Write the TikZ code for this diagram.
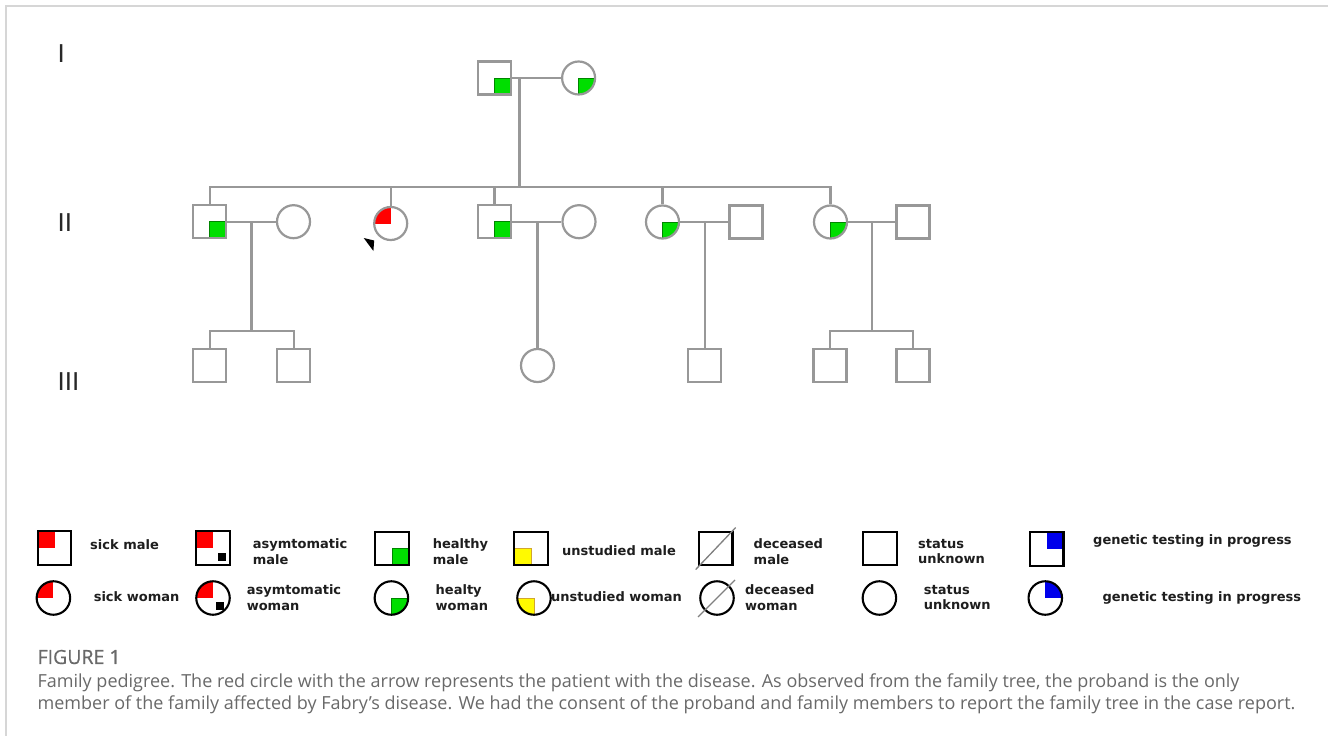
\documentclass[tikz,border=0pt]{standalone}
\usepackage{xcolor}
\usepackage{fontspec}
\setmainfont{Open Sans}
\newfontfamily\keyfont{DejaVu Sans}
\newfontfamily\figfont[FakeBold=0.6]{Open Sans}
\definecolor{kingray}{RGB}{152,152,152}
\definecolor{framegray}{RGB}{214,214,214}
\definecolor{capgray}{RGB}{105,105,105}
\definecolor{keytext}{RGB}{30,30,30}
\definecolor{hgreen}{RGB}{0,222,0}
\definecolor{sred}{RGB}{255,0,0}
\definecolor{uyellow}{RGB}{255,250,0}
\definecolor{gblue}{RGB}{0,0,235}
\usepackage{tikz}
\usetikzlibrary{calc}

\tikzset{
    kin/.style={draw=kingray, line width=2.2pt},
    person/.style={draw=kingray, line width=2.2pt, inner sep=0pt, minimum size=33pt},
    male/.style={person, rectangle},
    female/.style={person, circle},
    key/.style={draw=black, line width=2.1pt, inner sep=0pt, minimum size=33.5pt},
    keymale/.style={key, rectangle},
    keyfemale/.style={key, circle},
    healthy/.style={path picture={\filldraw [fill=hgreen, draw=hgreen!60!black, line width=0.6pt]
        (path picture bounding box.center) rectangle (path picture bounding box.south east);}},
    sick/.style={path picture={\fill [sred]
        (path picture bounding box.center) rectangle (path picture bounding box.north west);}},
    asymm/.style={path picture={\fill [sred]
        (path picture bounding box.center) rectangle (path picture bounding box.north west);
        \fill [black] ([shift={(5pt,-4.5pt)}]path picture bounding box.center) rectangle ++(7.5pt,-8pt);}},
    asymf/.style={path picture={\fill [sred]
        (path picture bounding box.center) rectangle (path picture bounding box.north west);
        \fill [black] ([shift={(3pt,-4pt)}]path picture bounding box.center) rectangle ++(7.5pt,-7.5pt);}},
    unstudied/.style={path picture={\filldraw [fill=uyellow, draw=brown!70!yellow, line width=0.8pt]
        (path picture bounding box.center) rectangle (path picture bounding box.south west);}},
    testing/.style={path picture={\fill [gblue]
        (path picture bounding box.center) rectangle (path picture bounding box.north east);}},
    slash/.style={draw=gray, line width=1.3pt},
    keylabel/.style={anchor=west, inner sep=0pt, align=left, text=keytext,
        font={\keyfont\bfseries\fontsize{13pt}{15.5pt}\selectfont}},
    gen/.style={anchor=west, inner sep=0pt, text={rgb,255:red,40;green,40;blue,40},
        font={\keyfont\fontsize{24.5pt}{26pt}\selectfont}},
    caption/.style={anchor=west, inner sep=0pt, text=capgray,
        font={\fontsize{18pt}{21pt}\selectfont}}
}

\begin{document}
\begin{tikzpicture}[x=1pt, y=-1pt]

    \fill [white] (0, 0) rectangle (1328, 736);
    \useasboundingbox (0, 0) rectangle (1328, 736);
    \draw [framegray, line width=1.2pt] (6, 736) -- (6, 6) -- (1328, 6);

    \node [gen] (genI) at (57.5, 54) {I};
    \node [gen] (genII) at (57.5, 223) {II};
    \node [gen] (genIII) at (57.5, 382) {III};

    \node [male, healthy] (I1) at (494.6, 78) {};
    \node [female, healthy] (I2) at (578.6, 78) {};

    \node [male, healthy] (II1) at (209.6, 221.7) {};
    \node [female] (II1w) at (293.5, 221.7) {};
    \node [female, sick] (II2) at (390.7, 223.5) {};
    \node [male, healthy] (II3) at (494.5, 221.7) {};
    \node [female] (II3w) at (579, 221.7) {};
    \node [female, healthy] (II4) at (662.5, 222) {};
    \node [male] (II4h) at (746, 222) {};
    \node [female, healthy] (II5) at (830.5, 222) {};
    \node [male] (II5h) at (913, 222) {};

    \node [male] (III1) at (209.6, 365.5) {};
    \node [male] (III2) at (293.6, 365.5) {};
    \node [female] (III3) at (537.5, 365.5) {};
    \node [male] (III4) at (704.6, 365.5) {};
    \node [male] (III5) at (830, 365.5) {};
    \node [male] (III6) at (913, 365.5) {};

    \draw [kin] (I1) -- (I2);
    \coordinate (dI) at ($(I1.east)!0.15!(I2.west)$);
    \draw [kin] (dI) -- ++(0, 109) coordinate (sII);
    \draw [kin] (II1.north) |- (sII) -| (II5.north);
    \foreach \k in {II2, II3, II4}
        \draw [kin] (\k.north) -- (\k.north |- sII);

    \draw [kin] (II1) -- (II1w);
    \coordinate (dII1) at ($(II1.east)!0.5!(II1w.west)$);
    \draw [kin] (dII1) -- ++(0, 109.3) coordinate (sIII1);
    \draw [kin] (III1.north) |- (sIII1) -| (III2.north);

    \draw [kin] (II3) -- (II3w);
    \draw [kin] (III3.north) -- (III3.north |- II3w);

    \draw [kin] (II4) -- (II4h);
    \draw [kin] (III4.north) -- (III4.north |- II4h);

    \draw [kin] (II5) -- (II5h);
    \coordinate (dII5) at ($(II5.east)!0.5!(II5h.west)$);
    \draw [kin] (dII5) -- ++(0, 109) coordinate (sIII5);
    \draw [kin] (III5.north) |- (sIII5) -| (III6.north);

    \fill [black] ([shift={(-27, 14.5)}]II2.center) -- ++(10.5, 2.5) -- ++(-0.8, 10.5) -- cycle;

    \node [keymale, sick] (keySM) at (54.5, 548) {};
    \node [keylabel] (txtSM) at (90, 544.7) {sick male};
    \node [keymale, asymm] (keyAM) at (213, 548) {};
    \node [keylabel] (txtAM) at (252.7, 551.5) {asymtomatic\\male};
    \node [keymale, healthy] (keyHM) at (392, 548.5) {};
    \node [keylabel] (txtHM) at (432.7, 551.5) {healthy\\male};
    \node [keymale, unstudied] (keyUM) at (531, 548.5) {};
    \node [keylabel] (txtUM) at (562, 550.7) {unstudied male};
    \node [keymale] (keyDM) at (715.7, 548.5) {};
    \draw [slash] ([shift={(-20, 21)}]keyDM.center) -- ([shift={(20, -21)}]keyDM.center);
    \node [keylabel] (txtDM) at (753.5, 551.5) {deceased\\male};
    \node [keymale] (keyXM) at (880, 548.5) {};
    \node [keylabel] (txtXM) at (918, 551.5) {status\\unknown};
    \node [keymale, testing] (keyGM) at (1046.7, 549) {};
    \node [keylabel] (txtGM) at (1093, 541) {genetic testing in progress};

    \node [keyfemale, sick] (keySW) at (53.4, 598) {};
    \node [keylabel] (txtSW) at (93.6, 596.7) {sick woman};
    \node [keyfemale, asymf] (keyAW) at (213, 598) {};
    \node [keylabel] (txtAW) at (246.6, 597.5) {asymtomatic\\woman};
    \node [keyfemale, healthy] (keyHW) at (391.4, 598) {};
    \node [keylabel] (txtHW) at (435.5, 597.5) {healty\\woman};
    \node [keyfemale, unstudied] (keyUW) at (534, 598) {};
    \node [keylabel] (txtUW) at (551, 596.7) {unstudied woman};
    \node [keyfemale] (keyDW) at (717, 598) {};
    \draw [slash] ([shift={(-19, 19)}]keyDW.center) -- ([shift={(18, -18)}]keyDW.center);
    \node [keylabel] (txtDW) at (745, 597.5) {deceased\\woman};
    \node [keyfemale] (keyXW) at (879.4, 598) {};
    \node [keylabel] (txtXW) at (923.7, 597.5) {status\\unknown};
    \node [keyfemale, testing] (keyGW) at (1045.3, 598) {};
    \node [keylabel] (txtGW) at (1102.4, 598.3) {genetic testing in progress};

    \node [caption, font={\figfont\fontsize{19.5pt}{21pt}\selectfont}] (fig) at (37.4, 657) {FIGURE 1};
    \node [caption] (capA) at (37.4, 683) {Family pedigree. The red circle with the arrow represents the patient with the disease. As observed from the family tree, the proband is the only};
    \node [caption] (capB) at (37.4, 705) {member of the family affected by Fabry’s disease. We had the consent of the proband and family members to report the family tree in the case report.};

\end{tikzpicture}
\end{document}
